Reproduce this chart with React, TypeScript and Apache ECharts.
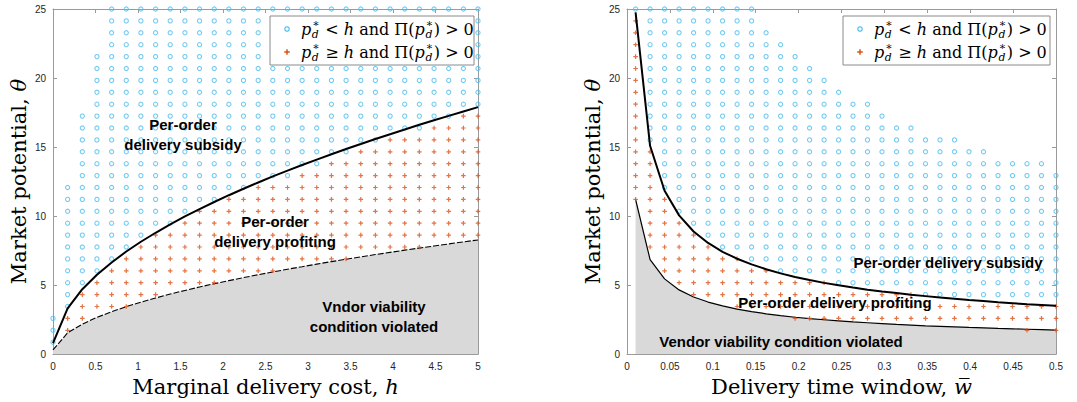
import React, { useEffect, useRef } from "react";
import * as echarts from "echarts";

// ---------------- data ----------------
// parameter grid (rows of theta, columns of h and of w-bar)
const thetaGrid = [0, 0.862, 1.724, 2.586, 3.448, 4.31, 5.172, 6.034, 6.897, 7.759, 8.621, 9.483, 10.345, 11.207, 12.069, 12.931, 13.793, 14.655, 15.517, 16.379, 17.241, 18.103, 18.966, 19.828, 20.69, 21.552, 22.414, 23.276, 24.138, 25];
const costGrid = [0, 0.172, 0.345, 0.517, 0.69, 0.862, 1.034, 1.207, 1.379, 1.552, 1.724, 1.897, 2.069, 2.241, 2.414, 2.586, 2.759, 2.931, 3.103, 3.276, 3.448, 3.621, 3.793, 3.966, 4.138, 4.31, 4.483, 4.655, 4.828, 5];
const windowGrid = [0.01, 0.0269, 0.0438, 0.0607, 0.0776, 0.0945, 0.1114, 0.1283, 0.1452, 0.1621, 0.179, 0.1959, 0.2128, 0.2297, 0.2466, 0.2634, 0.2803, 0.2972, 0.3141, 0.331, 0.3479, 0.3648, 0.3817, 0.3986, 0.4155, 0.4324, 0.4493, 0.4662, 0.4831, 0.5];

// left panel: per column, first row with a marker, first "subsidy" row, last row
const costLowRow = [1, 2, 3, 4, 4, 4, 5, 5, 6, 6, 6, 6, 7, 7, 7, 7, 8, 8, 8, 8, 8, 9, 9, 9, 9, 9, 10, 10, 10, 10];
const costFirstSubsidyRow = [1, 4, 6, 7, 8, 9, 10, 11, 11, 12, 13, 13, 14, 14, 15, 15, 15, 16, 16, 17, 17, 18, 18, 19, 19, 19, 20, 20, 21, 21];
const costTopRow = [3, 14, 20, 25, 29, 29, 29, 29, 29, 29, 29, 29, 29, 29, 29, 29, 29, 29, 29, 29, 29, 29, 29, 29, 29, 29, 29, 29, 29, 29];
const costSubsidyBoundary = [0.8, 3.32, 4.7, 5.75, 6.64, 7.43, 8.14, 8.79, 9.4, 9.97, 10.5, 11.02, 11.51, 11.98, 12.43, 12.87, 13.29, 13.7, 14.09, 14.48, 14.86, 15.22, 15.58, 15.93, 16.27, 16.61, 16.94, 17.26, 17.58, 17.89];
const costViabilityBoundary = [0.3, 1.54, 2.17, 2.66, 3.07, 3.44, 3.76, 4.06, 4.35, 4.61, 4.86, 5.1, 5.32, 5.54, 5.75, 5.95, 6.15, 6.33, 6.52, 6.7, 6.87, 7.04, 7.21, 7.37, 7.53, 7.68, 7.83, 7.98, 8.13, 8.27];

// right panel
const windowLowRow = [13, 9, 7, 6, 5, 5, 5, 4, 4, 4, 4, 3, 3, 3, 3, 3, 3, 3, 3, 3, 3, 3, 3, 3, 3, 3, 3, 2, 3, 2];
const windowFirstSubsidyRow = [29, 18, 14, 12, 11, 10, 9, 9, 8, 8, 7, 7, 7, 7, 6, 6, 6, 6, 6, 6, 5, 5, 5, 5, 5, 5, 5, 5, 5, 5];
const windowTopRow = [29, 29, 29, 29, 29, 29, 29, 29, 29, 27, 26, 25, 24, 23, 22, 21, 21, 20, 19, 19, 18, 18, 18, 17, 17, 16, 16, 16, 16, 15];
const windowSubsidyBoundary = [24.75, 15.09, 11.83, 10.05, 8.88, 8.05, 7.41, 6.91, 6.5, 6.15, 5.85, 5.59, 5.37, 5.16, 4.98, 4.82, 4.67, 4.54, 4.42, 4.3, 4.2, 4.1, 4.01, 3.92, 3.84, 3.76, 3.69, 3.62, 3.56, 3.5];
const windowViabilityBoundary = [11.2, 6.85, 5.45, 4.65, 4.14, 3.77, 3.49, 3.26, 3.08, 2.92, 2.79, 2.67, 2.57, 2.49, 2.41, 2.33, 2.27, 2.21, 2.15, 2.1, 2.05, 2.01, 1.97, 1.93, 1.9, 1.86, 1.83, 1.8, 1.77, 1.74];

const thetaTicks = { min: 0, max: 25, interval: 5 };
const costTicks = { min: 0, max: 5, interval: 0.5 };
const windowTicks = { min: 0, max: 0.5, interval: 0.05 };

// ---------------- styling ----------------
const BLUE = "#4DBEEE";
const ORANGE = "#D95319";
const GRAY = "#D9D9D9";
const AXIS = "#9a9a9a";
const TICKTXT = "#262626";
const SERIF = "DejaVu Serif";
const SANS = "Liberation Sans";
const PLUS = "path://M-0.8,-3H0.8V-0.8H3V0.8H0.8V3H-0.8V0.8H-3V-0.8H-0.8Z";

function classify(xs: number[], low: number[], split: number[], top: number[]) {
  const subsidy: number[][] = [];
  const profit: number[][] = [];
  xs.forEach((x, i) => {
    for (let j = low[i]; j < split[i]; j++) profit.push([x, thetaGrid[j]]);
    for (let j = split[i]; j <= top[i]; j++) subsidy.push([x, thetaGrid[j]]);
  });
  return { subsidy, profit };
}

const pairs = (xs: number[], ys: number[]) => xs.map((x, i) => [x, ys[i]]);

let measureCtx: CanvasRenderingContext2D | null = null;
function textWidth(t: string, size: number, italic?: boolean) {
  if (!measureCtx) measureCtx = document.createElement("canvas").getContext("2d");
  if (!measureCtx) return t.length * size * 0.55;
  measureCtx.font = `${italic ? "italic " : ""}${size}px '${SERIF}'`;
  return measureCtx.measureText(t).width;
}

type Piece = { t: string; it?: boolean; sup?: string; sub?: string };

function mathText(pieces: Piece[], x0: number, y: number, size: number) {
  const els: any[] = [];
  let x = x0;
  const small = size * 0.68;
  const mk = (text: string, px: number, py: number, fs: number, it: boolean | undefined, lh: number) => ({
    type: "text",
    x: px,
    y: py,
    silent: true,
    z: 110,
    style: { text, fontSize: fs, lineHeight: lh, fontFamily: SERIF, fontStyle: it ? "italic" : "normal", fill: "#000", align: "left", verticalAlign: "middle", textAlign: "left", textVerticalAlign: "middle" },
  });
  for (const p of pieces) {
    const w = textWidth(p.t, size, p.it);
    els.push(mk(p.t, x, y, size, p.it, size));
    x += w;
    if (p.sup || p.sub) {
      let adv = 0;
      x += 0.6;
      if (p.sup) {
        els.push(mk(p.sup, x + 0.3, y - size * 0.36, small, false, 7));
        adv = Math.max(adv, textWidth(p.sup, small));
      }
      if (p.sub) {
        els.push(mk(p.sub, x, y + size * 0.32, small, true, 7));
        adv = Math.max(adv, textWidth(p.sub, small, true));
      }
      x += adv + 1;
    }
  }
  return els;
}

function legend(left: number, top: number, width: number, height: number) {
  const size = 16;
  const r1 = top + 13;
  const r2 = top + 36;
  const row = (rel: string): Piece[] => [
    { t: "p", it: true, sup: "∗", sub: "d" },
    { t: rel },
    { t: "h", it: true },
    { t: " and Π(" },
    { t: "p", it: true, sup: "∗", sub: "d" },
    { t: ") > 0" },
  ];
  const mx = left + 17;
  return [
    { type: "rect", z: 100, silent: true, shape: { x: left, y: top, width, height }, style: { fill: "#fff", stroke: "#8a8a8a", lineWidth: 1 } },
    { type: "circle", z: 110, silent: true, shape: { cx: mx, cy: r1, r: 2.2 }, style: { fill: "none", stroke: BLUE, lineWidth: 1.2 } },
    { type: "line", z: 110, silent: true, shape: { x1: mx - 2.8, y1: r2, x2: mx + 2.8, y2: r2 }, style: { stroke: ORANGE, lineWidth: 1.5 } },
    { type: "line", z: 110, silent: true, shape: { x1: mx, y1: r2 - 2.8, x2: mx, y2: r2 + 2.8 }, style: { stroke: ORANGE, lineWidth: 1.5 } },
    ...mathText(row(" < "), left + 31, r1, size),
    ...mathText(row(" ≥ "), left + 31, r2, size),
  ];
}

function boldLabel(text: string, cx: number, cy: number) {
  return {
    type: "text",
    x: cx,
    y: cy,
    z: 90,
    silent: true,
    style: { text, fontSize: 15, fontWeight: "bold", fontFamily: SANS, fill: "#000", align: "center", verticalAlign: "middle", textAlign: "center", textVerticalAlign: "middle", lineHeight: 20 },
  };
}

function xAxis(gridIndex: number, ticks: any, position: string, name?: string, rich?: any) {
  return {
    type: "value",
    gridIndex,
    position,
    min: ticks.min,
    max: ticks.max,
    interval: ticks.interval,
    name: name || "",
    nameLocation: "middle",
    nameGap: 17,
    nameTextStyle: { fontFamily: SERIF, fontSize: 21, color: "#000", rich },
    axisLine: { show: true, onZero: false, lineStyle: { color: AXIS, width: 1 } },
    axisTick: { show: true, inside: true, length: 4, lineStyle: { color: AXIS } },
    axisLabel: { show: !!name, fontFamily: SANS, fontSize: 10, color: TICKTXT, margin: 7 },
    splitLine: { show: false },
  };
}

function yAxis(gridIndex: number, position: string, name?: string, rich?: any) {
  return {
    type: "value",
    gridIndex,
    position,
    min: thetaTicks.min,
    max: thetaTicks.max,
    interval: thetaTicks.interval,
    name: name || "",
    nameLocation: "middle",
    nameGap: 24,
    nameRotate: 90,
    nameTextStyle: { fontFamily: SERIF, fontSize: 21, color: "#000", rich },
    axisLine: { show: true, onZero: false, lineStyle: { color: AXIS, width: 1 } },
    axisTick: { show: true, inside: true, length: 4, lineStyle: { color: AXIS } },
    axisLabel: { show: !!name, fontFamily: SANS, fontSize: 10, color: TICKTXT, margin: 7 },
    splitLine: { show: false },
  };
}

const richName = {
  r: { fontFamily: SERIF, fontSize: 21, color: "#000" },
  i: { fontFamily: SERIF, fontSize: 21, fontStyle: "italic", color: "#000" },
};

export default function App() {
  const ref = useRef<HTMLDivElement>(null);
  useEffect(() => {
    if (!ref.current) return;
    const chart = echarts.init(ref.current, undefined, { renderer: "svg" });
    const left = classify(costGrid, costLowRow, costFirstSubsidyRow, costTopRow);
    const right = classify(windowGrid, windowLowRow, windowFirstSubsidyRow, windowTopRow);

    const subsidyStyle = { color: "rgba(0,0,0,0)", borderColor: BLUE, borderWidth: 1.1 };
    const profitStyle = { color: ORANGE };

    const option: any = {
      animation: false,
      grid: [
        { left: 53, top: 9, width: 425, height: 346 },
        { left: 627, top: 9, width: 429, height: 346 },
      ],
      xAxis: [
        xAxis(0, costTicks, "bottom", "{r|Marginal delivery cost, }{i|h}", richName),
        xAxis(0, costTicks, "top"),
        xAxis(1, windowTicks, "bottom", "{r|Delivery time window, }{i|w\u0305}", richName),
        xAxis(1, windowTicks, "top"),
      ],
      yAxis: [
        yAxis(0, "left", "{r|Market potential, }{i|θ}", richName),
        yAxis(0, "right"),
        yAxis(1, "left", "{r|Market potential, }{i|θ}", richName),
        yAxis(1, "right"),
      ],
      series: [
        {
          type: "line", xAxisIndex: 0, yAxisIndex: 0, z: 1, silent: true, symbol: "none",
          data: pairs(costGrid, costViabilityBoundary),
          lineStyle: { color: "#000", width: 1.1, type: [6, 2] },
          areaStyle: { color: GRAY, opacity: 1 },
        },
        { type: "scatter", xAxisIndex: 0, yAxisIndex: 0, z: 2, silent: true, symbol: "circle", symbolSize: 4.2, itemStyle: subsidyStyle, data: left.subsidy },
        { type: "scatter", xAxisIndex: 0, yAxisIndex: 0, z: 2, silent: true, symbol: PLUS, symbolSize: 4.6, itemStyle: profitStyle, data: left.profit },
        {
          type: "line", xAxisIndex: 0, yAxisIndex: 0, z: 3, silent: true, symbol: "none",
          data: pairs(costGrid, costSubsidyBoundary),
          lineStyle: { color: "#000", width: 2 },
        },
        {
          type: "line", xAxisIndex: 2, yAxisIndex: 2, z: 1, silent: true, symbol: "none",
          data: pairs(windowGrid, windowViabilityBoundary),
          lineStyle: { color: "#000", width: 1.2 },
          areaStyle: { color: GRAY, opacity: 1 },
        },
        { type: "scatter", xAxisIndex: 2, yAxisIndex: 2, z: 2, silent: true, symbol: "circle", symbolSize: 4.2, itemStyle: subsidyStyle, data: right.subsidy },
        { type: "scatter", xAxisIndex: 2, yAxisIndex: 2, z: 2, silent: true, symbol: PLUS, symbolSize: 4.6, itemStyle: profitStyle, data: right.profit },
        {
          type: "line", xAxisIndex: 2, yAxisIndex: 2, z: 3, silent: true, symbol: "none",
          data: pairs(windowGrid, windowSubsidyBoundary),
          lineStyle: { color: "#000", width: 2 },
        },
      ],
      graphic: [
        ...legend(270, 16, 204, 49),
        ...legend(843, 16, 207, 49),
        boldLabel("Per-order\ndelivery subsidy", 183, 134),
        boldLabel("Per-order\ndelivery profiting", 275, 231),
        boldLabel("Vndor viability\ncondition violated", 374, 316),
        boldLabel("Per-order delivery subsidy", 948, 262),
        boldLabel("Per-order delivery profiting", 835, 302),
        boldLabel("Vendor viability condition violated", 781, 341),
      ],
    };
    chart.setOption(option);
    return () => chart.dispose();
  }, []);
  return <div ref={ref} style={{ position: "absolute", left: 0, top: 0, width: 1077, height: 402, background: "#fff" }} />;
}
